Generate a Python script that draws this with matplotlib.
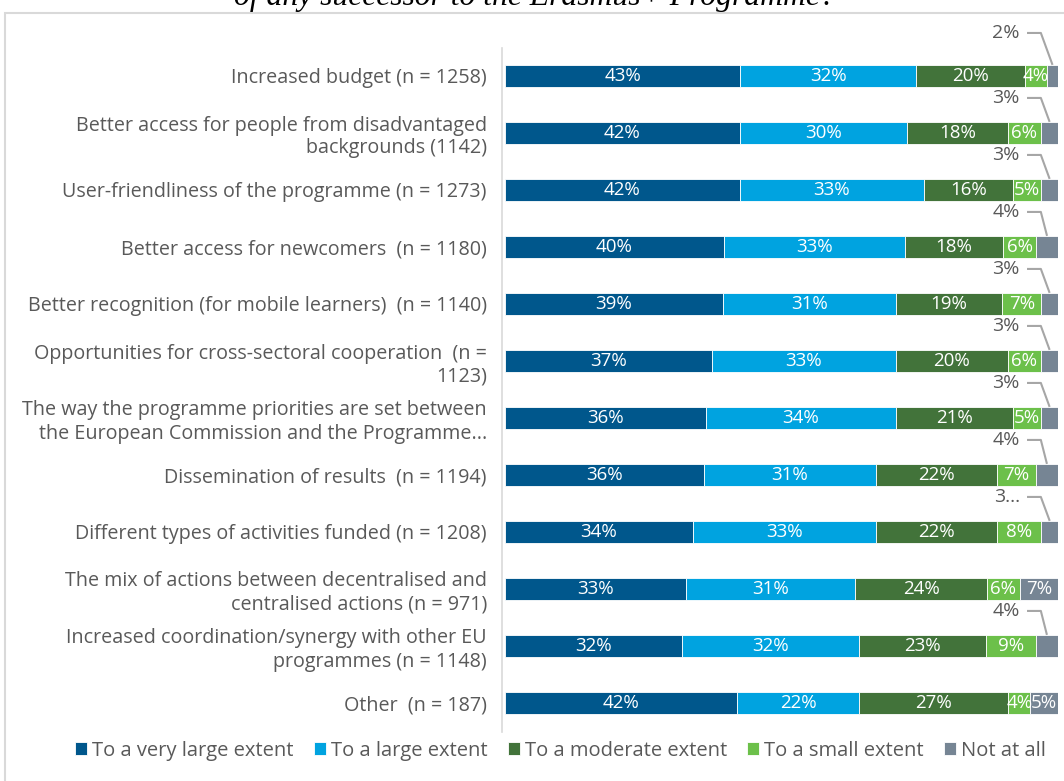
import matplotlib.pyplot as plt
from matplotlib.patches import Rectangle
import numpy as np

plt.rcParams['font.family'] = ['Open Sans', 'DejaVu Sans']

categories = [
    'Increased budget (n = 1258)',
    'Better access for people from disadvantaged\nbackgrounds (1142)',
    'User-friendliness of the programme (n = 1273)',
    'Better access for newcomers  (n = 1180)',
    'Better recognition (for mobile learners)  (n = 1140)',
    'Opportunities for cross-sectoral cooperation  (n =\n1123)',
    'The way the programme priorities are set between\nthe European Commission and the Programme...',
    'Dissemination of results  (n = 1194)',
    'Different types of activities funded (n = 1208)',
    'The mix of actions between decentralised and\ncentralised actions (n = 971)',
    'Increased coordination/synergy with other EU\nprogrammes (n = 1148)',
    'Other  (n = 187)',
]
very_large = [43, 42, 42, 40, 39, 37, 36, 36, 34, 33, 32, 42]
large = [32, 30, 33, 33, 31, 33, 34, 31, 33, 31, 32, 22]
moderate = [20, 18, 16, 18, 19, 20, 21, 22, 22, 24, 23, 27]
small = [4, 6, 5, 6, 7, 6, 5, 7, 8, 6, 9, 4]
not_at_all = [2, 3, 3, 4, 3, 3, 3, 4, 3, 7, 4, 5]
# labels for the "Not at all" part, '' = written inside the bar
callout = ['2%', '3%', '3%', '4%', '3%', '3%', '3%', '4%', '3…', '', '4%', '']

series = [very_large, large, moderate, small, not_at_all]
names = ['To a very large extent', 'To a large extent', 'To a moderate extent',
         'To a small extent', 'Not at all']
colors = ['#00578C', '#00A3E0', '#42733A', '#6CC04A', '#768594']

fig = plt.figure(figsize=(10.64, 7.81), dpi=100)
ax = fig.add_axes([505 / 1064, 1 - 731.5 / 781, 553 / 1064, 684 / 781])

data = np.array(series, dtype=float)
shares = data / data.sum(axis=0) * 100
y = np.arange(len(categories))
h = 0.39
left = np.zeros(len(categories))
for k in range(len(series)):
    ax.barh(y, shares[k], left=left, height=h, color=colors[k],
            edgecolor='white', linewidth=0.6, label=names[k])
    for i in range(len(categories)):
        mid = left[i] + shares[k][i] / 2
        if k == 4 and callout[i]:
            top = y[i] - h / 2
            ly = y[i] - (0.755 if i == 0 else 0.615)
            ax.text(93.1, ly, callout[i], ha='right', va='center',
                    fontsize=14, color='#595959')
            ax.plot([94.4, 96.9, mid], [ly, ly, top], color='#A6A6A6',
                    lw=1.5, solid_capstyle='butt', clip_on=False)
        else:
            ax.text(mid, y[i], f'{series[k][i]}%', ha='center', va='center',
                    fontsize=13.5, color='white')
    left += shares[k]

ax.set_xlim(0, 100)
ax.set_ylim(len(categories) - 0.5, -0.5)
ax.set_yticks(y)
ax.set_yticklabels(categories)
ax.tick_params(axis='y', length=0, pad=11, labelsize=14.2, labelcolor='#595959')
for t in ax.get_yticklabels():
    t.set_multialignment('center')
    t.set_linespacing(1.3)
ax.set_xticks([])
for s in ['top', 'right', 'bottom']:
    ax.spines[s].set_visible(False)
ax.spines['left'].set_color('#D9D9D9')
ax.spines['left'].set_linewidth(1.2)
ax.spines['left'].set_position(('outward', 2))

fig.legend(loc='center', bbox_to_anchor=(0.527, 0.039), ncol=5, frameon=False,
           fontsize=14.5, labelcolor='#595959', handlelength=0.6,
           handleheight=0.6, handletextpad=0.25, columnspacing=1.0)

fig.patches.append(Rectangle((5 / 1064, -0.1), 1.2, 1.1 - 13 / 781,
                             transform=fig.transFigure, fill=False,
                             edgecolor='#D9D9D9', lw=1.5))
fig.text(0.503, 0.993, 'of any successor to the Erasmus+ Programme?',
         ha='center', va='baseline', fontsize=22.8, style='italic',
         family='Liberation Serif')

fig.savefig('out.png', dpi=100)
